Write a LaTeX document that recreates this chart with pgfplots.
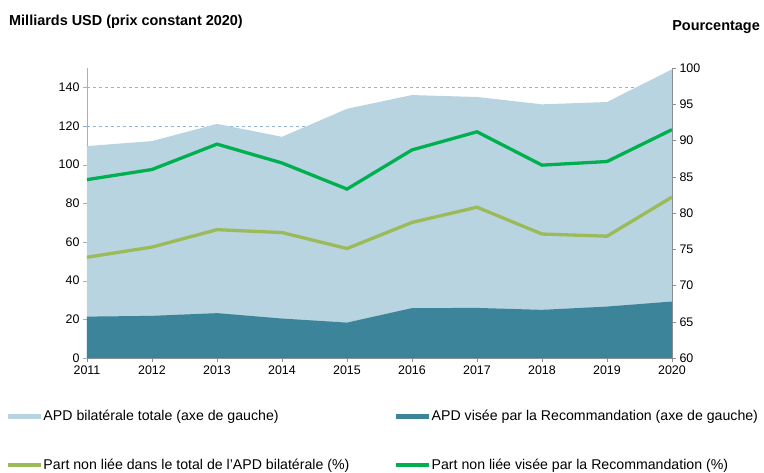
\documentclass[border=0pt]{standalone}
\usepackage{fontspec}
\setmainfont{Liberation Sans}
\usepackage{pgfplots}
\pgfplotsset{compat=1.18}
\usetikzlibrary{calc}

\definecolor{totblue}{HTML}{B7D4E0}
\definecolor{apdteal}{HTML}{3B8499}
\definecolor{lgreen}{HTML}{9BBB59}
\definecolor{dgreen}{HTML}{00B050}
\definecolor{gridblue}{HTML}{95B3D7}
\definecolor{axgray}{HTML}{8C8C8C}

\pgfplotsset{
  basefont/.style={font=\fontsize{12.5}{15}\selectfont},
  legfont/.style={font=\fontsize{14.2}{17}\selectfont},
  areaimg/.style={legend image code/.code={\fill[##1, draw=none] (0bp,-2.5bp) rectangle (33bp,2.5bp);}},
  lineimg/.style={legend image code/.code={\draw[##1] (0bp,0bp) -- (33bp,0bp);}},
}

\begin{document}
\begin{tikzpicture}
\begin{axis}[
  name=main,
  scale only axis, width=585bp, height=290bp,
  xmin=2011, xmax=2020, ymin=0, ymax=150,
  xtick={2011,...,2020}, ytick={0,20,...,140},
  axis x line*=bottom, axis y line*=left,
  x axis line style={axgray, -}, y axis line style={gridblue, -},
  tick align=outside,
  x tick style={axgray}, y tick style={gridblue},
  major tick length=4bp,
  ymajorgrids, grid style={gridblue, dashed},
  tick label style={/pgf/number format/assume math mode=true, basefont},
  xticklabel style={/pgf/number format/1000 sep={}},
]
\addplot[fill=totblue, draw=none] coordinates {
  (2011,109.6) (2012,112.2) (2013,121.1) (2014,114.4) (2015,128.9)
  (2016,136.0) (2017,135.0) (2018,131.2) (2019,132.4) (2020,149.3)} \closedcycle;
\addplot[fill=apdteal, draw=none] coordinates {
  (2011,21.4) (2012,21.8) (2013,23.2) (2014,20.4) (2015,18.3)
  (2016,25.8) (2017,25.9) (2018,24.9) (2019,26.6) (2020,29.2)} \closedcycle;
\end{axis}

\begin{axis}[
  at={(main.south west)}, anchor=south west,
  scale only axis, width=585bp, height=290bp,
  xmin=2011, xmax=2020, ymin=60, ymax=100,
  ytick={60,65,...,100},
  axis x line=none, axis y line*=right,
  y axis line style={axgray, -}, y tick style={axgray},
  tick align=outside, major tick length=4bp,
  tick label style={/pgf/number format/assume math mode=true, basefont},
  legend columns=2,
  legend cell align=left,
  legend style={at={(0,0)}, anchor=north west, xshift=-81bp, yshift=-51bp,
    draw=none, fill=none, inner sep=0pt, legfont,
    nodes={inner sep=1bp},
    /tikz/every even column/.append style={column sep=44bp},
    row sep=35bp},
]
\addlegendimage{areaimg, fill=totblue}
\addlegendentry{APD bilatérale totale (axe de gauche)}
\addlegendimage{areaimg, fill=apdteal}
\addlegendentry{APD visée par la Recommandation (axe de gauche)}
\addplot[lgreen, line width=3.3bp, lineimg] coordinates {
  (2011,73.9) (2012,75.3) (2013,77.7) (2014,77.3) (2015,75.1)
  (2016,78.7) (2017,80.8) (2018,77.1) (2019,76.8) (2020,82.2)};
\addlegendentry{Part non liée dans le total de l’APD bilatérale (\%)}
\addplot[dgreen, line width=3.3bp, lineimg] coordinates {
  (2011,84.6) (2012,86.0) (2013,89.5) (2014,86.9) (2015,83.3)
  (2016,88.7) (2017,91.2) (2018,86.6) (2019,87.1) (2020,91.5)};
\addlegendentry{Part non liée visée par la Recommandation (\%)}
\end{axis}

\node[anchor=west, font=\bfseries\fontsize{14.5}{17}\selectfont, inner sep=0pt]
  at ($(main.north west)+(-78bp,46bp)$) {Milliards USD (prix constant 2020)};
\node[anchor=east, font=\bfseries\fontsize{14.5}{17}\selectfont, inner sep=0pt]
  at ($(main.north east)+(88bp,41bp)$) {Pourcentage};

\pgfresetboundingbox
\path[use as bounding box] ($(main.south west)+(-87bp,-115bp)$) rectangle ($(main.north east)+(92bp,68bp)$);
\end{tikzpicture}
\end{document}
